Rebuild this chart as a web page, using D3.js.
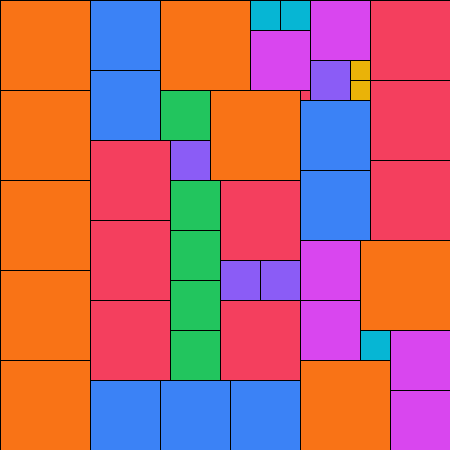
<!DOCTYPE html>
<html><head><meta charset="utf-8">
<script src="https://cdn.jsdelivr.net/npm/d3@7"></script>
<style>html,body{margin:0;padding:0;background:#fff}svg{display:block}</style>
</head><body>
<script>
// Partridge tiling: square side (grid units), position x, y (grid units)
const sizes = [9,9,9,9,9, 7,7, 9, 3,3, 6, 6, 4, 2,2, 8,8,8, 5, 9, 1, 8,8,8, 4, 5,5,5,5, 8, 4,4, 8, 7,7, 6,6, 9, 3, 6,6, 9, 7,7,7];
const xs    = [0,0,0,0,0, 9,9, 16, 25,28, 25, 31, 31, 35,35, 37,37,37, 16, 21, 30, 9,9,9, 17, 17,17,17,17, 22, 22,26, 22, 30,30, 30,30, 36, 36, 39,39, 30, 9,16,23];
const ys    = [0,9,18,27,36, 0,7, 0, 0,0, 3, 0, 6, 6,8, 0,8,16, 9, 9, 9, 14,22,30, 14, 18,23,28,33, 18, 26,26, 30, 10,17, 24,30, 24, 33, 33,39, 36, 38,38,38];
const colorBySize = ["#f43f5e","#eab308","#06b6d4","#8b5cf6","#22c55e","#d946ef","#3b82f6","#f43f5e","#f97316"];
const gridN = 45;

const W = 450, H = 450;
const x = d3.scaleLinear().domain([0, gridN]).range([0, W]);
const y = d3.scaleLinear().domain([0, gridN]).range([0, H]);
const svg = d3.select("body").append("svg").attr("width", W).attr("height", H);
const data = sizes.map((s, i) => ({s, x: xs[i], y: ys[i]}));
svg.selectAll("rect").data(data).join("rect")
  .attr("x", d => x(d.x)).attr("y", d => y(d.y))
  .attr("width", d => x(d.s) - x(0)).attr("height", d => y(d.s) - y(0))
  .attr("fill", d => colorBySize[d.s - 1])
  .attr("stroke", "#000").attr("stroke-width", 1)
  .attr("shape-rendering", "crispEdges");
</script>
</body></html>
